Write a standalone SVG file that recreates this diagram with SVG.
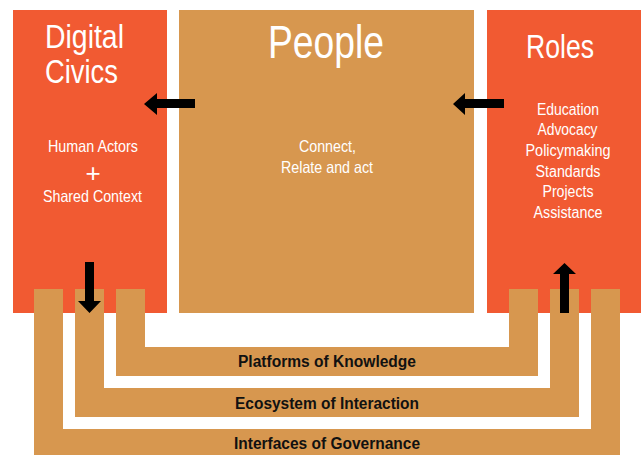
<svg xmlns="http://www.w3.org/2000/svg" width="641" height="455" viewBox="0 0 641 455">
<style>
.red{fill:#F15A32}
.tan{fill:#D7974F}
.w{fill:#FFFFFF;font-family:"Liberation Sans",Arial,sans-serif}
.lbl{fill:#111111;font-family:"Liberation Sans",Arial,sans-serif;font-weight:bold;font-size:16px}
.arr{fill:#000000}
</style>
<rect width="641" height="455" fill="#FFFFFF"/>
<g id="digital-civics">
<rect class="red" x="13" y="10" width="154" height="303"/>
<text class="w" x="45" y="48" font-size="34" textLength="79" lengthAdjust="spacingAndGlyphs">Digital</text>
<text class="w" x="45" y="83" font-size="34" textLength="73" lengthAdjust="spacingAndGlyphs">Civics</text>
<text class="w" x="48" y="152" font-size="16.5" textLength="90" lengthAdjust="spacingAndGlyphs">Human Actors</text>
<text class="w" x="93" y="182" font-size="26" text-anchor="middle">+</text>
<text class="w" x="43" y="202" font-size="16.5" textLength="99" lengthAdjust="spacingAndGlyphs">Shared Context</text>
</g>
<g id="people">
<rect class="tan" x="179" y="10" width="295" height="303"/>
<text class="w" x="268" y="58" font-size="46" textLength="116" lengthAdjust="spacingAndGlyphs">People</text>
<text class="w" x="299" y="152" font-size="16.5" textLength="57" lengthAdjust="spacingAndGlyphs">Connect,</text>
<text class="w" x="281" y="173" font-size="16.5" textLength="92" lengthAdjust="spacingAndGlyphs">Relate and act</text>
</g>
<g id="roles">
<rect class="red" x="487" y="10" width="154" height="303"/>
<text class="w" x="526" y="58" font-size="32.5" textLength="68" lengthAdjust="spacingAndGlyphs">Roles</text>
<g font-size="16">
<text class="w" x="537" y="115" textLength="62" lengthAdjust="spacingAndGlyphs">Education</text>
<text class="w" x="537.5" y="135" textLength="60" lengthAdjust="spacingAndGlyphs">Advocacy</text>
<text class="w" x="525.5" y="156" textLength="85" lengthAdjust="spacingAndGlyphs">Policymaking</text>
<text class="w" x="535.5" y="177" textLength="65" lengthAdjust="spacingAndGlyphs">Standards</text>
<text class="w" x="542.5" y="197" textLength="51" lengthAdjust="spacingAndGlyphs">Projects</text>
<text class="w" x="533.5" y="218" textLength="69" lengthAdjust="spacingAndGlyphs">Assistance</text>
</g>
</g>
<g id="interfaces-of-governance">
<path class="tan" d="M34 289H63V429H591V289H620V455H34Z"/>
<text class="lbl" x="234" y="449" textLength="186" lengthAdjust="spacingAndGlyphs">Interfaces of Governance</text>
</g>
<g id="ecosystem-of-interaction">
<path class="tan" d="M75 289H104V388H550V289H579V417H75Z"/>
<text class="lbl" x="235" y="409" textLength="184" lengthAdjust="spacingAndGlyphs">Ecosystem of Interaction</text>
</g>
<g id="platforms-of-knowledge">
<path class="tan" d="M116 289H145V347H509V289H538V376H116Z"/>
<text class="lbl" x="238" y="367" textLength="178" lengthAdjust="spacingAndGlyphs">Platforms of Knowledge</text>
</g>
<g id="connectors">
<polygon class="arr" points="195,99 157,99 157,93 144,104 157,115 157,108 195,108"/>
<polygon class="arr" points="504,99 465,99 465,93 453,104 465,115 465,108 504,108"/>
<polygon class="arr" points="85,262 94,262 94,301 101,301 89.5,313 78,301 85,301"/>
<polygon class="arr" points="560,313 569,313 569,274 576,274 564.5,263 553,274 560,274"/>
</g>
</svg>
